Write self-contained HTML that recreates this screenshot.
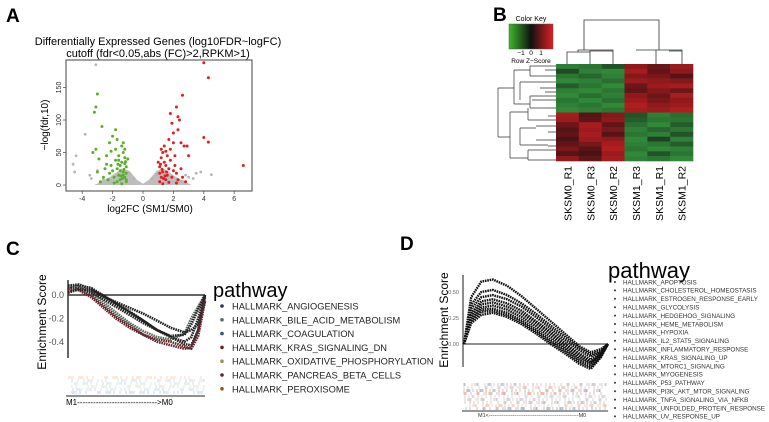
<!DOCTYPE html>
<html><head><meta charset="utf-8">
<style>
html,body{margin:0;padding:0;background:#fff;}
svg{display:block;font-family:"Liberation Sans",sans-serif;}
</style></head>
<body>
<svg id="fig" width="769" height="422" viewBox="0 0 769 422" xmlns="http://www.w3.org/2000/svg">
<rect width="769" height="422" fill="#fff"/>
<text x="6" y="22" font-size="19" font-weight="bold">A</text>
<text x="493" y="21" font-size="19" font-weight="bold">B</text>
<text x="6" y="255" font-size="19" font-weight="bold">C</text>
<text x="400" y="250" font-size="19" font-weight="bold">D</text>

<g id="panelA">
<text x="158" y="45" font-size="11" text-anchor="middle">Differentially Expressed Genes (log10FDR~logFC)</text>
<text x="158" y="57" font-size="11" text-anchor="middle">cutoff (fdr&lt;0.05,abs (FC)&gt;2,RPKM&gt;1)</text>
<rect x="66" y="60" width="186" height="131" fill="none" stroke="#444" stroke-width="1"/>
<text x="150" y="212" font-size="10" text-anchor="middle">log2FC (SM1/SM0)</text>
<text transform="translate(48,125) rotate(-90)" font-size="10" text-anchor="middle">−log(fdr,10)</text>
</g>

<g id="panelB">
<text x="531" y="21" font-size="7" text-anchor="middle">Color Key</text>
<defs><linearGradient id="ck" x1="0" x2="1"><stop offset="0" stop-color="#3cb82c"/><stop offset="0.5" stop-color="#111"/><stop offset="1" stop-color="#e01e24"/></linearGradient></defs>
<rect x="509" y="24" width="44" height="25" fill="url(#ck)" stroke="#555" stroke-width="0.5"/>
<text x="521" y="55" font-size="6.5" text-anchor="middle">−1</text>
<text x="531" y="55" font-size="6.5" text-anchor="middle">0</text>
<text x="541" y="55" font-size="6.5" text-anchor="middle">1</text>
<text x="531" y="63" font-size="6.5" text-anchor="middle">Row Z−Score</text>
<g stroke="#333" stroke-width="0.8" fill="none">
<path d="M567,64V52H590V64M578,52V50H613V52M590,52V51H613V64M584,50V20H659V50M636,50H682V64M656,50V64M669,51H682"/>
</g>
<g stroke="#333" stroke-width="0.7" fill="none">
<path d="M498,88V137M498,88H514M498,137H510M514,70V104M510,112V158M514,70H530M514,104H530M510,112H528M510,158H528M530,66V76M530,96V108M528,108V120M528,150V160M530,66H556M530,76H556M530,96H556M530,108H556M528,120H556M528,150H556M528,160H556M540,82H556M540,88H556M536,126H556M536,140H556M532,100H556M545,70H556M545,92H556M548,116H556M548,132H556M548,146H556M520,82V100M520,82H540M520,128V145M520,128H536M520,145H548"/>
</g>
</g>

<g id="panelC">
<text transform="translate(46,322) rotate(-90)" font-size="12" text-anchor="middle">Enrichment Score</text>
<text x="213" y="297" font-size="20">pathway</text>
<line x1="66" y1="396" x2="205" y2="396" stroke="#222" stroke-width="1"/>
<text x="66" y="405" font-size="8">M1------------------------------&gt;M0</text>
</g>

<g id="panelD">
<text transform="translate(448,320) rotate(-90)" font-size="12" text-anchor="middle">Enrichment Score</text>
<text x="608" y="278" font-size="22">pathway</text>
<line x1="462" y1="411" x2="608" y2="411" stroke="#333" stroke-width="1"/>
<text x="478" y="417" font-size="5.5" fill="#333">M1&lt;-------------------------------------------------M0</text>
</g>
</svg>
<script>
const NS="http://www.w3.org/2000/svg";
const volcanoXTicks=[-4,-2,0,2,4,6];
const volcanoYTicks=[0,50,100,150];
const greenX=[-1.1,-1.2,-1.3,-1.1,-1.4,-1.2,-1.5,-1.6,-1.7,-1.5,-1.8,-1.3,-1.9,-2.0,-2.1,-1.6,-1.4,-1.2,-1.7,-1.8,-2.2,-2.3,-2.5,-2.6,-2.8,-3.0,-2.0,-1.8,-2.2,-2.4,-2.9,-3.1,-3.3,-2.7,-3.0,-3.2,-3.1,-1.3,-1.1,-1.5,-1.9,-1.4,-1.2,-1.6,-1.0,-1.3,-2.1,-1.1,-1.7,-2.4,-1.25,-1.45,-1.65,-1.35,-1.15];
const greenY=[5,12,20,28,35,42,8,15,25,30,38,50,12,22,30,45,60,55,70,55,18,8,25,12,5,20,75,85,65,45,40,55,50,90,140,112,120,15,18,22,3,2,33,38,40,65,52,8,5,32,24,14,32,10,36];
const redX=[1.1,1.2,1.3,1.1,1.4,1.2,1.5,1.6,1.7,1.5,1.8,1.3,1.9,2.0,2.1,1.6,1.4,1.2,1.7,1.8,2.2,2.3,2.5,2.6,2.8,2.0,1.9,1.8,2.2,2.3,2.4,2.6,2.5,2.7,2.9,3.0,2.3,2.0,4.0,4.3,4.0,4.3,6.6,1.1,1.0,1.3,1.7,2.2,1.5,2.1,1.25,1.45,1.35,1.15,1.55];
const redY=[5,12,20,28,35,42,8,15,25,30,38,50,12,22,30,45,60,55,70,55,18,8,25,12,5,80,95,110,120,105,100,138,65,60,60,45,85,65,188,165,73,66,30,18,35,2,4,3,52,45,24,14,10,32,20];
const grayX=[-4.6,-4.4,-4.5,-3.8,-3.5,-3.4,-3.1,3.5,3.8,4.5,3.0,2.8,-2.8,-2.6,2.6,3.3,-3.0,-2.2,2.4,-0.6,0.6,-0.9,0.9];
const grayY=[32,45,20,78,15,10,185,18,20,16,12,15,3,8,6,10,22,4,5,10,10,18,16];
const cloudX=[-3.2,-2.2,-1.4,-0.9,-0.4,0,0.4,0.9,1.4,2.2,3.2];
const cloudY=[0,12,25,22,8,2,8,22,25,12,0];
const sampleLabels=["SKSM0_R1","SKSM0_R3","SKSM0_R2","SKSM1_R3","SKSM1_R1","SKSM1_R2"];
const heatRows=[
[-1.1,-1.0,-0.6,0.9,0.6,1.0],[-0.5,-1.1,-1.2,1.1,0.5,0.9],[-1.0,-0.8,-1.1,0.8,0.7,0.4],[-1.2,-1.1,-0.9,1.0,0.9,0.8],
[-0.7,-1.0,-1.2,0.6,1.0,1.1],[-1.1,-1.2,-1.0,0.5,0.8,0.6],[-1.2,-0.9,-1.1,0.9,0.6,1.1],[-1.0,-1.2,-0.9,1.0,0.7,0.9],
[-1.1,-1.0,-1.2,1.2,0.9,1.0],[-1.2,-1.1,-1.0,1.1,1.0,1.2],
[1.1,0.4,0.8,-0.6,-1.1,-0.9],[1.0,0.5,0.9,-0.7,-1.0,-1.0],[0.6,1.1,0.5,-0.9,-1.2,-0.7],[0.4,1.0,0.7,-1.1,-0.8,-1.0],
[0.5,1.1,0.4,-1.0,-1.1,-0.6],[0.3,1.0,0.9,-1.2,-0.4,-1.1],[0.5,0.7,1.1,-1.1,-1.0,-0.7],[0.7,0.4,1.2,-1.0,-1.2,-1.1],
[0.4,0.3,1.0,-1.2,-0.6,-1.0],[0.9,0.5,1.1,-1.1,-1.0,-1.2]];
const cPos=[0,0.08,0.17,0.25,0.35,0.45,0.55,0.65,0.75,0.85,0.9,0.95,1];
const cNames=["HALLMARK_ANGIOGENESIS","HALLMARK_BILE_ACID_METABOLISM","HALLMARK_COAGULATION","HALLMARK_KRAS_SIGNALING_DN","HALLMARK_OXIDATIVE_PHOSPHORYLATION","HALLMARK_PANCREAS_BETA_CELLS","HALLMARK_PEROXISOME"];
const cColors=["#2e3558","#56705c","#3d5470","#6a2222","#9a9060","#5a2838","#8a5a1c"];
const cES1=[0.05,0.08,0.06,0.0,-0.08,-0.15,-0.22,-0.30,-0.36,-0.40,-0.36,-0.2,0.0];
const cES2=[0.08,0.07,0.03,-0.05,-0.15,-0.24,-0.31,-0.36,-0.38,-0.33,-0.2,-0.1,0.0];
const cES3=[0.06,0.06,0.02,-0.03,-0.1,-0.17,-0.24,-0.30,-0.36,-0.42,-0.43,-0.3,0.0];
const cES4=[0.05,0.04,-0.02,-0.1,-0.2,-0.28,-0.34,-0.38,-0.40,-0.44,-0.46,-0.35,-0.05];
const cES5=[0.08,0.09,0.05,-0.01,-0.06,-0.11,-0.16,-0.22,-0.28,-0.32,-0.30,-0.25,-0.05];
const cES6=[0.03,0.05,0.0,-0.08,-0.18,-0.26,-0.34,-0.40,-0.43,-0.46,-0.45,-0.3,-0.02];
const cES7=[0.02,0.05,0.04,0.0,-0.07,-0.14,-0.22,-0.30,-0.35,-0.34,-0.25,-0.12,0.0];
const cYTicks=[0.0,-0.2,-0.4];
const cTickLabels=["0.0","-0.2","-0.4"];
const dPos=[0,0.05,0.12,0.2,0.3,0.4,0.5,0.6,0.7,0.8,0.88,0.95,1];
const dNames=["HALLMARK_APOPTOSIS","HALLMARK_CHOLESTEROL_HOMEOSTASIS","HALLMARK_ESTROGEN_RESPONSE_EARLY","HALLMARK_GLYCOLYSIS","HALLMARK_HEDGEHOG_SIGNALING","HALLMARK_HEME_METABOLISM","HALLMARK_HYPOXIA","HALLMARK_IL2_STAT5_SIGNALING","HALLMARK_INFLAMMATORY_RESPONSE","HALLMARK_KRAS_SIGNALING_UP","HALLMARK_MTORC1_SIGNALING","HALLMARK_MYOGENESIS","HALLMARK_P53_PATHWAY","HALLMARK_PI3K_AKT_MTOR_SIGNALING","HALLMARK_TNFA_SIGNALING_VIA_NFKB","HALLMARK_UNFOLDED_PROTEIN_RESPONSE","HALLMARK_UV_RESPONSE_UP"];
const dES1=[0,0.45,0.60,0.62,0.56,0.46,0.34,0.22,0.10,-0.02,-0.08,-0.05,0];
const dES2=[0,0.38,0.50,0.52,0.47,0.39,0.29,0.18,0.07,-0.04,-0.10,-0.07,0];
const dES3=[0,0.34,0.45,0.47,0.43,0.36,0.26,0.15,0.04,-0.06,-0.12,-0.08,0];
const dES4=[0,0.30,0.41,0.43,0.39,0.32,0.22,0.12,0.01,-0.09,-0.15,-0.09,0];
const dES5=[0,0.28,0.38,0.40,0.36,0.29,0.20,0.10,-0.01,-0.11,-0.17,-0.10,0];
const dES6=[0,0.26,0.35,0.37,0.33,0.26,0.17,0.07,-0.03,-0.13,-0.18,-0.10,0];
const dES7=[0,0.24,0.33,0.34,0.30,0.23,0.14,0.04,-0.05,-0.15,-0.20,-0.11,0];
const dES8=[0,0.22,0.31,0.32,0.28,0.21,0.12,0.02,-0.07,-0.17,-0.22,-0.12,0];
const dES9=[0,0.20,0.28,0.30,0.26,0.19,0.10,0.00,-0.09,-0.19,-0.24,-0.13,0];
const dYTicks=[0.0,0.25,0.5];
const dTickLabels=["0.00","0.25","0.50"];

function mk(tag,attrs,parent){const e=document.createElementNS(NS,tag);for(const k in attrs)e.setAttribute(k,attrs[k]);(parent||document.getElementById('fig')).appendChild(e);return e;}

const gA=document.getElementById('panelA');
const ax=v=>143+v*15.2, ay=v=>185-v*0.65;
let cp=cloudX.map((x,i)=>ax(x)+','+ay(cloudY[i])).join(' ');
let cloud=mk('polygon',{points:cp,fill:'#bdbdbd'},gA);


grayX.forEach((x,i)=>{const c=mk('circle',{cx:ax(x),cy:ay(grayY[i]),r:1.4,fill:'#b5b5b5'},gA);

});
greenX.forEach((x,i)=>{const c=mk('circle',{cx:ax(x),cy:ay(greenY[i]),r:1.5,fill:'#5aae2a'},gA);

});
redX.forEach((x,i)=>{const c=mk('circle',{cx:ax(x),cy:ay(redY[i]),r:1.5,fill:'#e0201e'},gA);

});
volcanoXTicks.forEach(v=>{mk('line',{x1:ax(v),x2:ax(v),y1:191,y2:194,stroke:'#444','stroke-width':0.7},gA);
const t=mk('text',{x:ax(v),y:201,'font-size':7,'text-anchor':'middle',fill:'#333'},gA);t.textContent=v;

});
volcanoYTicks.forEach(v=>{mk('line',{x1:63,x2:66,y1:ay(v),y2:ay(v),stroke:'#444','stroke-width':0.7},gA);
const t=mk('text',{transform:`translate(61,${ay(v)}) rotate(-90)`,'font-size':7,'text-anchor':'middle',fill:'#333'},gA);t.textContent=v;

});

const gB=document.getElementById('panelB');
function zcol(z){z=Math.max(-1.3,Math.min(1.3,z))/1.3;
 if(z<0){const t=-z;return `rgb(${Math.round(25+t*25)},${Math.round(30+t*115)},${Math.round(25+t*35)})`;}
 const t=z;return `rgb(${Math.round(40+t*150)},${Math.round(15+t*15)},${Math.round(18+t*15)})`;}
const hx0=556,hy0=64,cw=137/6,rh=97/heatRows.length;
heatRows.forEach((row,r)=>row.forEach((v,c)=>{const e=mk('rect',{x:hx0+c*cw,y:hy0+r*rh,width:cw+0.3,height:rh+0.3,fill:zcol(v)},gB);

}));
sampleLabels.forEach((s,i)=>{const t=mk('text',{transform:`translate(${hx0+(i+0.5)*cw+4},166) rotate(-90)`,'font-size':10.5,'text-anchor':'end'},gB);t.textContent=s;

});

function curve(g,pos,vals,sx,sy,color,w){const d=pos.map((p,i)=>(i?'L':'M')+sx(p).toFixed(1)+','+sy(vals[i]).toFixed(1)).join('');
 return mk('path',{d:d,fill:'none',stroke:color,'stroke-width':w,'stroke-dasharray':'1.6 0.8','stroke-linejoin':'round'},g);}

const gC=document.getElementById('panelC');
const cx=v=>68+v*137, cy=v=>295-v*117;
mk('line',{x1:68,y1:280,x2:68,y2:358,stroke:'#333','stroke-width':1.5},gC);
mk('line',{x1:68,y1:cy(0),x2:205,y2:cy(0),stroke:'#333','stroke-width':1.5},gC);
cYTicks.forEach((v,i)=>{const t=mk('text',{x:64,y:cy(v)+3,'font-size':9,'text-anchor':'end',fill:'#555'},gC);t.textContent=cTickLabels[i];

});
[cES1,cES2,cES3,cES4,cES5,cES6,cES7].forEach((s,i)=>{const p=curve(gC,cPos,s,cx,cy,i%2?cColors[i]:'#222',2.6);

});
const rugC=["#f0d0b0","#d8d0e8","#c0e0e4","#ead8b8","#c8d4e8","#b0ccd4"];
for(let k=0;k<6;k++){for(let j=0;j<46;j++){const x=69+((j*j*7+j*29+k*53)%136);const y=376+k*3;
 const l=mk('line',{x1:x,x2:x,y1:y,y2:y+3,stroke:rugC[k],'stroke-width':0.7},gC);
 
 }}
cNames.forEach((n,i)=>{const y=306+i*13.8;const c=mk('circle',{cx:222,cy:y,r:1.8,fill:cColors[i]},gC);


const t=mk('text',{x:232,y:y+3.5,'font-size':9.3,fill:'#222'},gC);t.textContent=n;

});

const gD=document.getElementById('panelD');
const dx=v=>464+v*144, dy=v=>344-v*104;
mk('line',{x1:463,y1:275,x2:463,y2:367,stroke:'#666','stroke-width':1.5},gD);
mk('line',{x1:463,y1:dy(0),x2:608,y2:dy(0),stroke:'#222','stroke-width':1},gD);
dYTicks.forEach((v,i)=>{const t=mk('text',{x:459,y:dy(v)+2,'font-size':5.5,'text-anchor':'end',fill:'#666'},gD);t.textContent=dTickLabels[i];

});
[dES1,dES2,dES3,dES4,dES5,dES6,dES7,dES8,dES9].forEach(s=>{const p=curve(gD,dPos,s,dx,dy,'#111',2.4);

});
const rugD=["#b8bccc","#e8c0b0","#a8b0c8","#e0a898","#c0d4d8","#d4c0c8","#b4c4bc","#ecc4b8","#a0b0c4"];
for(let k=0;k<9;k++){for(let j=0;j<60;j++){const x=464+((j*j*11+j*23+k*61)%143);const y=383+k*3;
 const l=mk('line',{x1:x,x2:x,y1:y,y2:y+3,stroke:rugD[k],'stroke-width':0.7},gD);
 
 }}
dNames.forEach((n,i)=>{const y=282+i*8.4;const c=mk('circle',{cx:615,cy:y,r:1,fill:'#333'},gD);


const t=mk('text',{x:623,y:y+2.3,'font-size':6.3,fill:'#333'},gD);t.textContent=n;

});
</script>
</body></html>
